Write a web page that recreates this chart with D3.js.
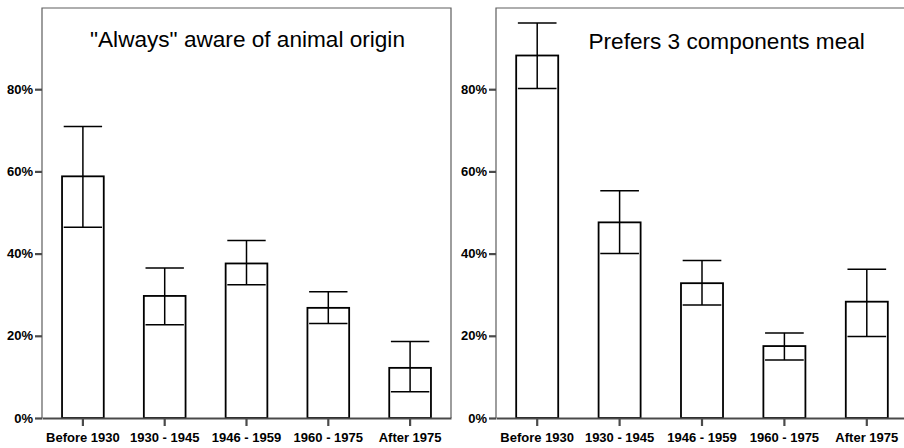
<!DOCTYPE html>
<html>
<head>
<meta charset="utf-8">
<script src="https://cdn.jsdelivr.net/npm/d3@7"></script>
<style>
  body { margin: 0; background: #fff; }
  svg { display: block; font-family: "Liberation Sans", Arial, sans-serif; }
</style>
</head>
<body>
<svg id="chart" width="904" height="448"></svg>
<script>
// birth cohorts on the x axis
var categories = ["Before 1930", "1930 - 1945", "1946 - 1959", "1960 - 1975", "After 1975"];

// "Always" aware of animal origin (%), with error bar bounds
var awareValues = [58.8, 29.7, 37.6, 26.8, 12.2];
var awareLow    = [46.4, 22.7, 32.4, 23.0, 6.4];
var awareHigh   = [70.9, 36.5, 43.2, 30.7, 18.6];

// Prefers 3 components meal (%), with error bar bounds
var mealValues = [88.2, 47.6, 32.8, 17.5, 28.3];
var mealLow    = [80.2, 40.0, 27.5, 14.1, 19.8];
var mealHigh   = [96.1, 55.3, 38.3, 20.7, 36.2];

var yTicks = [0, 20, 40, 60, 80];

var svg = d3.select('#chart');

// one panel per indicator
function drawPanel(opts, values, low, high){
  var g = svg.append('g');

  var x = d3.scaleBand()
      .domain(categories)
      .range([opts.left, opts.right])
      .paddingInner(0.49)
      .paddingOuter(0.245);

  var y = d3.scaleLinear()
      .domain([0, 100])
      .range([418, 7]);

  // frame (left and top border)
  g.append('path')
      .attr('d', 'M' + opts.left + ',418V' + opts.top + 'H' + opts.right + (opts.closed ? 'V418' : ''))
      .attr('fill', 'none')
      .attr('stroke', '#5e5e5e')
      .attr('stroke-width', 1.2);

  // bars
  g.selectAll('rect.bar')
      .data(values)
      .enter()
      .append('rect')
      .attr('class', 'bar')
      .attr('x', function(d, i){ return x(categories[i]); })
      .attr('y', function(d){ return y(d); })
      .attr('width', x.bandwidth())
      .attr('height', function(d){ return y(0) - y(d); })
      .attr('fill', '#fff')
      .attr('stroke', '#000')
      .attr('stroke-width', 1.8);

  // error bars
  var capW = x.bandwidth() * 0.92;
  var err = g.selectAll('g.err')
      .data(categories)
      .enter()
      .append('g')
      .attr('class', 'err')
      .attr('stroke', '#000')
      .attr('stroke-width', 1.5);

  err.append('line')
      .attr('x1', function(d){ return x(d) + x.bandwidth() / 2; })
      .attr('x2', function(d){ return x(d) + x.bandwidth() / 2; })
      .attr('y1', function(d, i){ return y(low[i]); })
      .attr('y2', function(d, i){ return y(high[i]); });

  err.append('line')
      .attr('x1', function(d){ return x(d) + x.bandwidth() / 2 - capW / 2; })
      .attr('x2', function(d){ return x(d) + x.bandwidth() / 2 + capW / 2; })
      .attr('y1', function(d, i){ return y(high[i]); })
      .attr('y2', function(d, i){ return y(high[i]); });

  err.append('line')
      .attr('x1', function(d){ return x(d) + x.bandwidth() / 2 - capW / 2; })
      .attr('x2', function(d){ return x(d) + x.bandwidth() / 2 + capW / 2; })
      .attr('y1', function(d, i){ return y(low[i]); })
      .attr('y2', function(d, i){ return y(low[i]); });

  // y axis
  var yAxis = g.append('g')
      .attr('transform', 'translate(' + opts.left + ',0)')
      .call(d3.axisLeft(y)
          .tickValues(yTicks)
          .tickFormat(function(d){ return d + '%'; })
          .tickSize(7)
          .tickPadding(2));
  yAxis.select('.domain').remove();

  // x axis
  var xAxis = g.append('g')
      .attr('transform', 'translate(0,418)')
      .call(d3.axisBottom(x)
          .tickSize(8)
          .tickSizeOuter(0)
          .tickPadding(7));
  xAxis.select('.domain')
      .attr('stroke', '#4a4a4a')
      .attr('stroke-width', 2);

  g.selectAll('.tick line')
      .attr('stroke', '#4a4a4a')
      .attr('stroke-width', 2.2);
  g.selectAll('.tick text')
      .attr('fill', '#000')
      .style('font-size', '13px')
      .style('font-weight', 'bold')
      .style('font-family', '"Liberation Sans", Arial, sans-serif');

  // title
  g.append('text')
      .attr('x', opts.titleX)
      .attr('y', opts.titleY)
      .attr('text-anchor', opts.titleAnchor)
      .style('font-size', '22.6px')
      .attr('fill', '#000')
      .text(opts.title);
}

drawPanel({left: 42, right: 451, top: 8, closed: true,
           title: '"Always" aware of animal origin', titleX: 247.5, titleY: 46.5, titleAnchor: 'middle'},
          awareValues, awareLow, awareHigh);

drawPanel({left: 496, right: 908, top: 8, closed: false,
           title: 'Prefers 3 components meal', titleX: 588.5, titleY: 48.5, titleAnchor: 'start'},
          mealValues, mealLow, mealHigh);
</script>
</body>
</html>
